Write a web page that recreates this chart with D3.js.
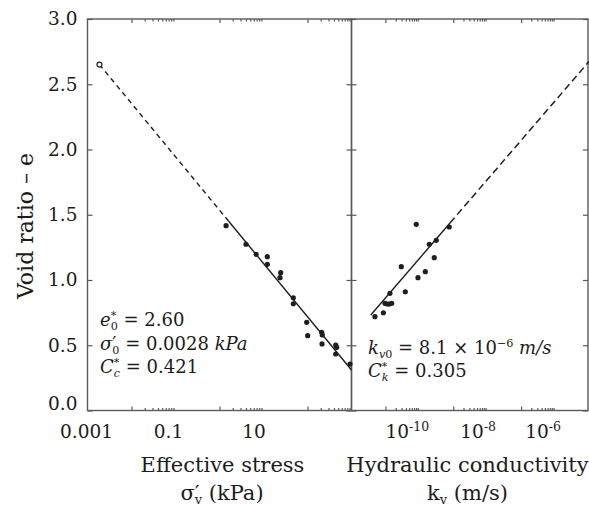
<!DOCTYPE html>
<html><head><meta charset="utf-8">
<script src="https://cdn.jsdelivr.net/npm/d3@7"></script>
<style>body{margin:0;background:#fff} svg{display:block}</style>
</head><body><svg id="c" width="589" height="511"></svg>
<script>
// ---------- data ----------
const yTicks = [0, 0.5, 1.0, 1.5, 2.0, 2.5, 3.0];
const yTickLabels = ["0.0", "0.5", "1.0", "1.5", "2.0", "2.5", "3.0"];
const sigmaMajorTicks = [1e-2, 1, 1e2];
const kvMajorTicks = [1e-11, 1e-9, 1e-7];
const sigmaLabelValues = [1e-3, 1e-1, 1e1];
const sigmaLabels = ["0.001", "0.1", "10"];
const kvLabelValues = [1e-10, 1e-8, 1e-6];
const kvLabelExponents = ["-10", "-8", "-6"];

// left panel: void ratio vs effective stress (kPa)
const stress = [1.41, 4.0, 6.8, 12.2, 12.2, 24.6, 23.7, 47.6, 47.6, 96, 101, 210, 217, 214, 438, 461, 438, 925];
const eStress = [1.416, 1.274, 1.197, 1.179, 1.120, 1.056, 1.018, 0.864, 0.818, 0.676, 0.573, 0.599, 0.579, 0.510, 0.502, 0.484, 0.433, 0.356];
// fitted compression line: open-circle start, start of solid part, end
const stressFit = [0.00187, 1.6, 1000];
const eStressFit = [2.651, 1.452, 0.310];

// right panel: void ratio vs hydraulic conductivity (m/s)
const kv = [4.9e-12, 8.7e-12, 9.7e-12, 1.13e-11, 1.30e-11, 1.53e-11, 1.36e-11, 2.94e-11, 3.85e-11, 8.1e-11, 9.1e-11, 1.50e-10, 1.96e-10, 2.75e-10, 3.15e-10, 7.6e-10];
const eKv = [0.719, 0.749, 0.821, 0.816, 0.816, 0.821, 0.898, 1.102, 0.910, 1.427, 1.018, 1.064, 1.274, 1.171, 1.304, 1.406];
// fitted line: start of solid, end of solid, end of dashed
const kvFit = [3.7e-12, 8.0e-10, 1e-5];
const eKvFit = [0.732, 1.437, 2.674];

// ---------- layout ----------
const FONT = "DejaVu Serif";
const AX = "#595959", INK = "#1e1e1e", TXT = "#1c1c1c";
const L = {x0: 87.5, x1: 351.5}, R = {x0: 351.5, x1: 588};
const yTop = 19, yBot = 410.5;

const svg = d3.select("#c").attr("font-family", FONT);
const xL = d3.scaleLog().domain([1e-3, 1e3]).range([L.x0, L.x1]);
const xR = d3.scaleLog().domain([1e-12, 1e-5]).range([R.x0, 589]);
const y = d3.scaleLinear().domain([0, 3]).range([yBot, yTop]);

function styleAxis(g) {
  g.select(".domain").remove();
  g.selectAll(".tick line").attr("stroke", AX).attr("stroke-width", 1.2);
  g.selectAll(".tick text").attr("fill", TXT).attr("font-family", FONT).attr("font-size", 18.5);
}

// y axis (left, with labels)
svg.append("g").attr("transform", `translate(${L.x0},0)`)
  .call(d3.axisLeft(y).tickValues(yTicks).tickSize(-5).tickPadding(10)
    .tickFormat((d, i) => yTickLabels[i]))
  .call(styleAxis)
  .call(g => g.selectAll(".tick text").attr("dy", (d) => d === 0 ? "-0.05em" : "0.32em"));
// divider ticks (both sides) and right frame ticks
svg.append("g").attr("transform", `translate(${L.x1},0)`)
  .call(d3.axisRight(y).tickValues(yTicks).tickSize(-5).tickFormat("")).call(styleAxis);
svg.append("g").attr("transform", `translate(${R.x0},0)`)
  .call(d3.axisLeft(y).tickValues(yTicks).tickSize(-5).tickFormat("")).call(styleAxis);
svg.append("g").attr("transform", `translate(${R.x1},0)`)
  .call(d3.axisRight(y).tickValues(yTicks).tickSize(-5).tickFormat("")).call(styleAxis);

// x ticks: majors every two decades, minors in the decade after each major
function minorsOf(majors) {
  const out = [];
  majors.forEach(m => { for (let k = 2; k <= 9; k++) out.push(m * k); });
  return out;
}
[[xL, sigmaMajorTicks], [xR, kvMajorTicks]].forEach(([sc, majors]) => {
  const minors = minorsOf(majors);
  svg.append("g").attr("transform", `translate(0,${yBot})`)
    .call(d3.axisTop(sc).tickValues(majors).tickSize(4).tickFormat("")).call(styleAxis);
  svg.append("g").attr("transform", `translate(0,${yBot})`)
    .call(d3.axisTop(sc).tickValues(minors).tickSize(2.5).tickFormat("")).call(styleAxis);
  svg.append("g").attr("transform", `translate(0,${yTop})`)
    .call(d3.axisBottom(sc).tickValues(majors).tickSize(4).tickFormat("")).call(styleAxis);
  svg.append("g").attr("transform", `translate(0,${yTop})`)
    .call(d3.axisBottom(sc).tickValues(minors).tickSize(2.5).tickFormat("")).call(styleAxis);
});

// frames
[L, R].forEach(p => {
  svg.append("rect").attr("x", p.x0).attr("y", yTop).attr("width", p.x1 - p.x0).attr("height", yBot - yTop)
    .attr("fill", "none").attr("stroke", AX).attr("stroke-width", 1.4);
});

// x tick labels
const leftLabelDx = [-1, -7, -9.5];
sigmaLabelValues.forEach((v, i) => {
  svg.append("text").attr("x", xL(v) + leftLabelDx[i]).attr("y", 438)
    .attr("text-anchor", "middle").attr("font-size", 18.5).attr("fill", TXT).text(sigmaLabels[i]);
});
const rightLabelDx = [-12, -9, -12];
kvLabelValues.forEach((v, i) => {
  const t = svg.append("text").attr("y", 438).attr("font-size", 18.5).attr("fill", TXT);
  t.append("tspan").text("10");
  t.append("tspan").text(kvLabelExponents[i]).attr("font-size", 12.5).attr("dy", -7.5);
  const w = t.node().getBBox().width;
  t.attr("x", xR(v) + rightLabelDx[i] - w / 2);
});

// rich text helper
function rich(x, yb, parts, fs, anchor) {
  const t = svg.append("text").attr("x", x).attr("y", yb).attr("font-size", fs).attr("fill", TXT);
  let cur = 0, prevW = 0;
  parts.forEach(p => {
    const sz = p.s ? fs * 0.62 : fs;
    const target = p.s === "sup" ? -fs * 0.38 : p.s === "sub" ? fs * 0.2 : 0;
    const ts = t.append("tspan").text(p.t).attr("font-size", sz);
    if (target - cur !== 0) ts.attr("dy", target - cur);
    if (p.i) ts.attr("font-style", "italic");
    if (p.stack) ts.attr("dx", -prevW);
    cur = target;
    prevW = ts.node().getComputedTextLength();
  });
  if (anchor === "middle") {
    const w = t.node().getBBox().width;
    t.attr("x", x - w / 2);
  }
  return t;
}

// axis titles
svg.append("text").attr("transform", `translate(33,226) rotate(-90)`)
  .attr("text-anchor", "middle").attr("font-size", 22).attr("fill", TXT).text("Void ratio – e");
svg.append("text").attr("x", 222.5).attr("y", 472).attr("text-anchor", "middle")
  .attr("font-size", 21).attr("fill", TXT).text("Effective stress");
rich(222, 500, [{t: "σ"}, {t: "′"}, {t: "v", s: "sub", stack: 1}, {t: " (kPa)"}], 21, "middle");
svg.append("text").attr("x", 467.5).attr("y", 472).attr("text-anchor", "middle")
  .attr("font-size", 21).attr("fill", TXT).text("Hydraulic conductivity");
rich(467.5, 500, [{t: "k"}, {t: "v", s: "sub"}, {t: " (m/s)"}], 21, "middle");

// annotations
const AF = 18;
rich(100, 326, [{t: "e", i: 1}, {t: "*", s: "sup"}, {t: "0", s: "sub", stack: 1}, {t: " = 2.60"}], AF);
rich(100, 350, [{t: "σ", i: 1}, {t: "′"}, {t: "0", s: "sub", stack: 1}, {t: " = 0.0028 "}, {t: "kPa", i: 1}], AF);
rich(100, 373, [{t: "C", i: 1}, {t: "*", s: "sup"}, {t: "c", s: "sub", i: 1, stack: 1}, {t: " = 0.421"}], AF);
rich(368, 354, [{t: "k", i: 1}, {t: "v", s: "sub", i: 1}, {t: "0", s: "sub"}, {t: " = 8.1 × 10"}, {t: "−6", s: "sup"}, {t: " m/s", i: 1}], AF);
rich(368, 377, [{t: "C", i: 1}, {t: "*", s: "sup"}, {t: "k", s: "sub", i: 1, stack: 1}, {t: " = 0.305"}], AF);

// fitted lines
const lineL = d3.line().x(d => xL(d[0])).y(d => y(d[1]));
const lineR = d3.line().x(d => xR(d[0])).y(d => y(d[1]));
svg.append("path").attr("d", lineL([[stressFit[0], eStressFit[0]], [stressFit[1], eStressFit[1]]]))
  .attr("fill", "none").attr("stroke", INK).attr("stroke-width", 1.4).attr("stroke-dasharray", "5,4");
svg.append("path").attr("d", lineL([[stressFit[1], eStressFit[1]], [stressFit[2], eStressFit[2]]]))
  .attr("fill", "none").attr("stroke", INK).attr("stroke-width", 1.4);
svg.append("path").attr("d", lineR([[kvFit[0], eKvFit[0]], [kvFit[1], eKvFit[1]]]))
  .attr("fill", "none").attr("stroke", INK).attr("stroke-width", 1.4);
svg.append("path").attr("d", lineR([[kvFit[1], eKvFit[1]], [kvFit[2], eKvFit[2]]]))
  .attr("fill", "none").attr("stroke", INK).attr("stroke-width", 1.5).attr("stroke-dasharray", "7,4");
svg.append("circle").attr("cx", xL(stressFit[0])).attr("cy", y(eStressFit[0])).attr("r", 2.5)
  .attr("fill", "#fff").attr("stroke", INK).attr("stroke-width", 1.2);

// data points
svg.append("g").selectAll("circle").data(stress.map((s, i) => [s, eStress[i]])).join("circle")
  .attr("cx", d => xL(d[0])).attr("cy", d => y(d[1])).attr("r", 2.6).attr("fill", INK);
svg.append("g").selectAll("circle").data(kv.map((k, i) => [k, eKv[i]])).join("circle")
  .attr("cx", d => xR(d[0])).attr("cy", d => y(d[1])).attr("r", 2.6).attr("fill", INK);
</script></body></html>
